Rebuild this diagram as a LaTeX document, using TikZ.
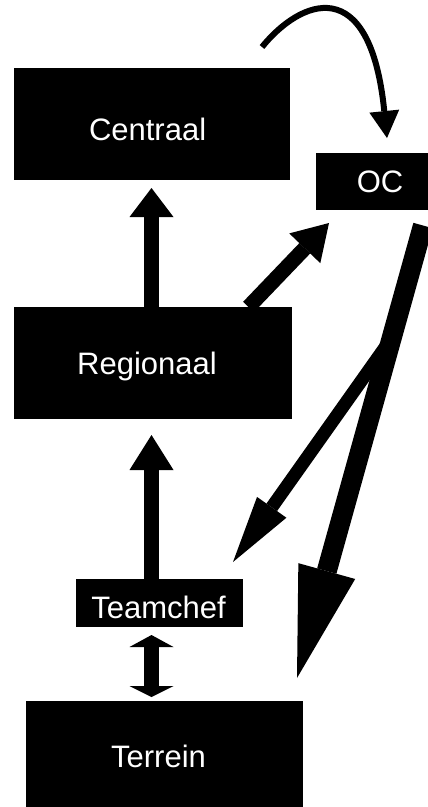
\documentclass[tikz,border=0pt]{standalone}
\usepackage{fontspec}
\setmainfont{Liberation Sans}
\usetikzlibrary{arrows.meta,calc}

\tikzset{
  box/.style={fill=black, draw=none, inner sep=0pt, outer sep=0pt},
  boxtext/.style={anchor=base, text=white, inner sep=0pt,
    font=\fontsize{31}{37}\selectfont},
  conn/.style={draw=black, line cap=butt},
}

\begin{document}
\begin{tikzpicture}[x=1pt, y=-1pt]
  % canvas
  \clip (0,0) rectangle (428,807);
  \fill[white] (0,0) rectangle (428,807);

  % boxes
  \node[box, minimum width=276, minimum height=112] (cen) at (152,124) {};
  \node[box, minimum width=128, minimum height=57]  (oc)  at (380,181.5) {};
  \node[box, minimum width=278, minimum height=112] (reg) at (153,363) {};
  \node[box, minimum width=167, minimum height=48]  (tc)  at (159.5,603) {};
  \node[box, minimum width=277, minimum height=111] (ter) at (164.5,756.5) {};

  % box labels
  \node[boxtext] (cenlbl) at ($(cen.center)+(-4.4,16)$) {Centraal};
  \node[boxtext] (oclbl)  at ($(oc.center)+(0,10.5)$)   {OC};
  \node[boxtext] (reglbl) at ($(reg.center)+(-6,11)$)   {Regionaal};
  \node[boxtext] (tclbl)  at ($(tc.center)+(-1,15)$)    {Teamchef};
  \node[boxtext] (terlbl) at ($(ter.center)+(-6,10.5)$) {Terrein};

  % shared vertical axis of the left column of arrows
  \coordinate (axis) at (151.5,0);

  % Regionaal -> Centraal
  \draw[conn, line width=15, shorten >=8pt,
        -{Triangle[length=29pt,width=44pt,line width=0pt]}]
    (axis |- reg.north) -- (axis |- cen.south);

  % Teamchef -> Regionaal
  \draw[conn, line width=15, shorten >=16pt,
        -{Triangle[length=35pt,width=44pt,line width=0pt]}]
    (axis |- tc.north) -- (axis |- reg.south);

  % Teamchef <-> Terrein
  \draw[conn, line width=15, shorten <=8pt, shorten >=4pt,
        {Triangle[length=12pt,width=44pt,line width=0pt]}-{Triangle[length=11pt,width=44pt,line width=0pt]}]
    (axis |- tc.south) -- (axis |- ter.north);

  % Regionaal -> OC
  \draw[conn, line width=15,
        -{Triangle[length=35pt,width=43pt,line width=0pt]}]
    ($(reg.north)+(95.5,0)$) -- ($(oc.south)+(-51,13)$);

  % OC -> Terrein (main stream) and its fork to Teamchef
  \coordinate (ocout)  at ($(oc.south)+(43,15.5)$);
  \coordinate (tertip) at ($(ter.north east)+(-6,-23)$);
  \coordinate (fork)   at ($(ocout)!0.2486!(tertip)$);
  \draw[conn, line width=13,
        -{Triangle[length=67pt,width=36pt,line width=0pt]}]
    (fork) -- ($(tc.north east)+(-10,-17)$);
  \draw[conn, line width=20,
        -{Triangle[length=111pt,width=59pt,line width=0pt]}]
    (ocout) -- (tertip);

  % incoming arc into OC
  \coordinate (src) at (262,47);
  \draw[conn, line width=6,
        -{Triangle[length=27pt,width=30pt,line width=0pt]}]
    (src) .. controls (300,0) and (370,-30) .. ($(oc.north)+(7,-15)$);
\end{tikzpicture}
\end{document}
